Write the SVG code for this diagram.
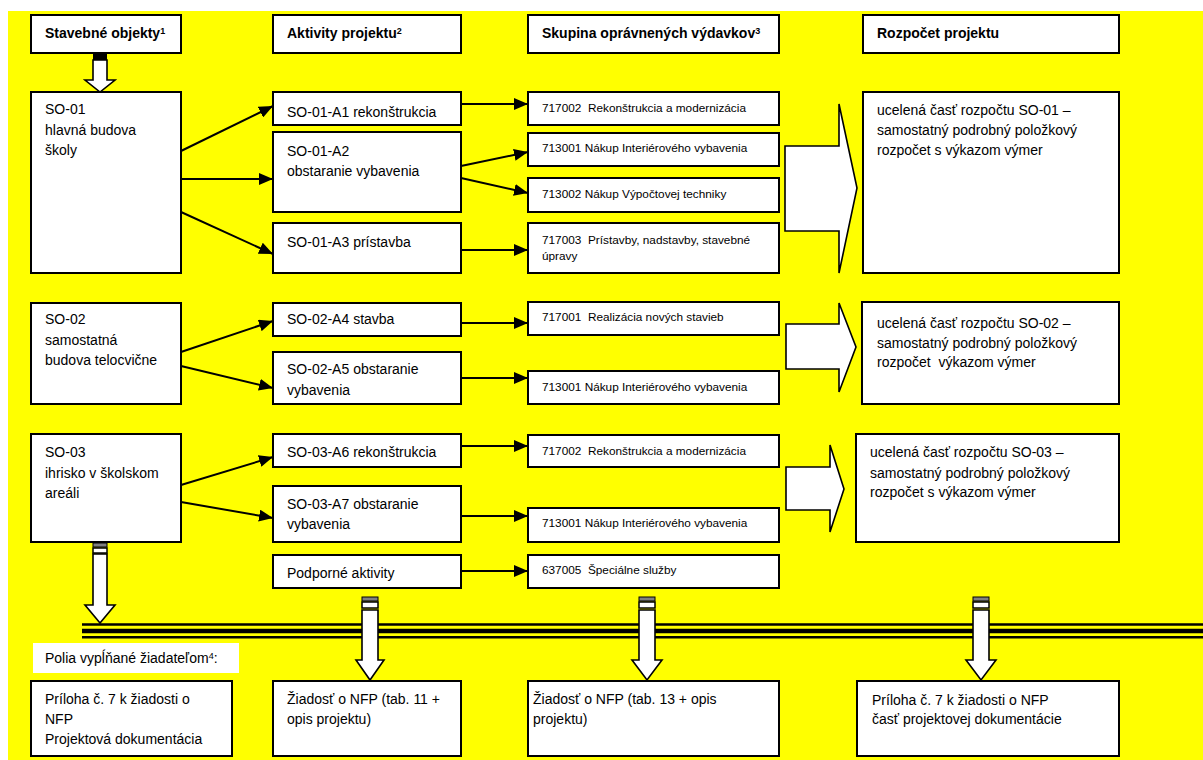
<svg xmlns="http://www.w3.org/2000/svg" width="1203" height="760" viewBox="0 0 1203 760">
<style>
text{font-family:"Liberation Sans",Arial,sans-serif;fill:#000;white-space:pre}
.b{fill:#fff;stroke:#000;stroke-width:2}
.h{font-size:14px;font-weight:bold}
.t{font-size:14px}
.s{font-size:11.8px}
.c{stroke:#000;stroke-width:2;fill:none;marker-end:url(#ah)}
.ba{fill:#fff;stroke:#000;stroke-width:1.6;stroke-linejoin:miter}
.sup{font-size:9px}
</style>
<defs>
<marker id="ah" markerUnits="userSpaceOnUse" markerWidth="14" markerHeight="12" refX="14" refY="6" orient="auto">
<path d="M0,0 L14,6 L0,12 z" fill="#000"/>
</marker>
</defs>
<rect x="8" y="11" width="1195" height="749" fill="#ffff00"/>

<g id="h1"><rect class="b" x="31" y="15" width="150" height="38"/><text class="h" x="45" y="38">Stavebné objekty<tspan class="sup" dy="-4">1</tspan></text></g>
<g id="h2"><rect class="b" x="273" y="15" width="188" height="38"/><text class="h" x="287" y="38">Aktivity projektu<tspan class="sup" dy="-4">2</tspan></text></g>
<g id="h3"><rect class="b" x="528" y="15" width="251" height="38"/><text class="h" x="542" y="38">Skupina oprávnených výdavkov<tspan class="sup" dy="-4">3</tspan></text></g>
<g id="h4"><rect class="b" x="863" y="15" width="256" height="38"/><text class="h" x="877" y="38">Rozpočet projektu</text></g>

<g id="so01"><rect class="b" x="31" y="92" width="150" height="181"/><text class="t" x="45" y="114">SO-01</text><text class="t" x="45" y="135">hlavná budova</text><text class="t" x="45" y="155">školy</text></g>
<g id="a1"><rect class="b" x="273" y="92" width="188" height="33"/><text class="t" x="287" y="117">SO-01-A1 rekonštrukcia</text></g>
<g id="a2"><rect class="b" x="273" y="132" width="188" height="80"/><text class="t" x="287" y="156">SO-01-A2</text><text class="t" x="287" y="176">obstaranie vybavenia</text></g>
<g id="a3"><rect class="b" x="273" y="223" width="188" height="50"/><text class="t" x="287" y="247">SO-01-A3 prístavba</text></g>
<g id="b1"><rect class="b" x="528" y="92" width="251" height="33"/><text class="s" x="542" y="112">717002  Rekonštrukcia a modernizácia</text></g>
<g id="b2"><rect class="b" x="528" y="133" width="251" height="33"/><text class="s" x="542" y="152">713001 Nákup Interiérového vybavenia</text></g>
<g id="b3"><rect class="b" x="528" y="178" width="251" height="34"/><text class="s" x="542" y="198">713002 Nákup Výpočtovej techniky</text></g>
<g id="b4"><rect class="b" x="528" y="223" width="251" height="50"/><text class="s" x="542" y="244">717003  Prístavby, nadstavby, stavebné</text><text class="s" x="542" y="260">úpravy</text></g>
<g id="r1"><rect class="b" x="863" y="92" width="256" height="181"/><text class="t" x="877" y="115">ucelená časť rozpočtu SO-01 –</text><text class="t" x="877" y="135">samostatný podrobný položkový</text><text class="t" x="877" y="155">rozpočet s výkazom výmer</text></g>

<g id="so02"><rect class="b" x="31" y="303" width="150" height="101"/><text class="t" x="45" y="324">SO-02</text><text class="t" x="45" y="345">samostatná</text><text class="t" x="45" y="365">budova telocvične</text></g>
<g id="a4"><rect class="b" x="273" y="303" width="188" height="33"/><text class="t" x="287" y="324">SO-02-A4 stavba</text></g>
<g id="a5"><rect class="b" x="273" y="352" width="188" height="52"/><text class="t" x="287" y="374">SO-02-A5 obstaranie</text><text class="t" x="287" y="395">vybavenia</text></g>
<g id="c1"><rect class="b" x="528" y="302" width="251" height="33"/><text class="s" x="542" y="321">717001  Realizácia nových stavieb</text></g>
<g id="c2"><rect class="b" x="528" y="371" width="251" height="33"/><text class="s" x="542" y="391">713001 Nákup Interiérového vybavenia</text></g>
<g id="r2"><rect class="b" x="862" y="302" width="257" height="102"/><text class="t" x="877" y="328">ucelená časť rozpočtu SO-02 –</text><text class="t" x="877" y="348">samostatný podrobný položkový</text><text class="t" x="877" y="367">rozpočet  výkazom výmer</text></g>

<g id="so03"><rect class="b" x="31" y="434" width="150" height="108"/><text class="t" x="45" y="457">SO-03</text><text class="t" x="45" y="478">ihrisko v školskom</text><text class="t" x="45" y="498">areáli</text></g>
<g id="a6"><rect class="b" x="273" y="434" width="188" height="33"/><text class="t" x="287" y="457">SO-03-A6 rekonštrukcia</text></g>
<g id="a7"><rect class="b" x="273" y="486" width="188" height="56"/><text class="t" x="287" y="509">SO-03-A7 obstaranie</text><text class="t" x="287" y="529">vybavenia</text></g>
<g id="pa"><rect class="b" x="273" y="555" width="188" height="33"/><text class="t" x="287" y="578">Podporné aktivity</text></g>
<g id="d1"><rect class="b" x="528" y="435" width="251" height="32"/><text class="s" x="542" y="455">717002  Rekonštrukcia a modernizácia</text></g>
<g id="d2"><rect class="b" x="528" y="508" width="251" height="34"/><text class="s" x="542" y="527">713001 Nákup Interiérového vybavenia</text></g>
<g id="d3"><rect class="b" x="528" y="555" width="251" height="33"/><text class="s" x="542" y="574">637005  Špeciálne služby</text></g>
<g id="r3"><rect class="b" x="856" y="434" width="263" height="108"/><text class="t" x="870" y="457">ucelená časť rozpočtu SO-03 –</text><text class="t" x="870" y="478">samostatný podrobný položkový</text><text class="t" x="870" y="497">rozpočet s výkazom výmer</text></g>

<g id="sep">
<line x1="82" y1="624.5" x2="1203" y2="624.5" stroke="#000" stroke-width="2.4"/>
<line x1="82" y1="631" x2="1203" y2="631" stroke="#000" stroke-width="4.4"/>
<line x1="82" y1="637.3" x2="1203" y2="637.3" stroke="#000" stroke-width="2.6"/>
</g>

<g id="polia"><rect x="33" y="643" width="206" height="30" fill="#fff"/><text class="t" x="45" y="663">Polia vypĺňané žiadateľom<tspan class="sup" dy="-4">4</tspan><tspan dy="4">:</tspan></text></g>
<g id="e1"><rect class="b" x="31" y="681" width="201" height="75"/><text class="t" x="45" y="704">Príloha č. 7 k žiadosti o</text><text class="t" x="45" y="724">NFP</text><text class="t" x="45" y="744">Projektová dokumentácia</text></g>
<g id="e2"><rect class="b" x="273" y="681" width="188" height="75"/><text class="t" x="287" y="704">Žiadosť o NFP (tab. 11 +</text><text class="t" x="287" y="724">opis projektu)</text></g>
<g id="e3"><rect class="b" x="528" y="681" width="251" height="75"/><text class="t" x="533" y="704">Žiadosť o NFP (tab. 13 + opis</text><text class="t" x="533" y="724">projektu)</text></g>
<g id="e4"><rect class="b" x="857" y="681" width="262" height="75"/><text class="t" x="872" y="705">Príloha č. 7 k žiadosti o NFP</text><text class="t" x="872" y="724">časť projektovej dokumentácie</text></g>

<g id="connectors">
<line class="c" x1="181" y1="151" x2="273" y2="106"/>
<line class="c" x1="181" y1="179" x2="273" y2="179"/>
<line class="c" x1="181" y1="212" x2="273" y2="254"/>
<line class="c" x1="461" y1="104" x2="528" y2="104"/>
<line class="c" x1="461" y1="166" x2="528" y2="152"/>
<line class="c" x1="461" y1="178" x2="528" y2="193"/>
<line class="c" x1="461" y1="250" x2="528" y2="250"/>
<line class="c" x1="181" y1="352" x2="273" y2="321"/>
<line class="c" x1="181" y1="366" x2="273" y2="388"/>
<line class="c" x1="461" y1="323" x2="528" y2="323"/>
<line class="c" x1="461" y1="378" x2="528" y2="378"/>
<line class="c" x1="181" y1="485" x2="273" y2="457"/>
<line class="c" x1="181" y1="502" x2="273" y2="518"/>
<line class="c" x1="461" y1="446" x2="528" y2="446"/>
<line class="c" x1="461" y1="516" x2="528" y2="516"/>
<line class="c" x1="461" y1="571" x2="528" y2="571"/>
<polygon class="ba" points="785,146 839,146 839,104 857,188 839,273 839,231 785,231"/>
<polygon class="ba" points="786,324 839,324 839,303 856,347 839,392 839,369 786,369"/>
<polygon class="ba" points="786,467 830,467 830,445 844,489 830,532 830,510 786,510"/>
<rect x="93" y="53" width="14" height="7" fill="#000"/>
<polygon class="ba" points="93,60 107,60 107,80 115,80 100,92 85,80 93,80" stroke-width="2"/>
<rect x="93" y="543" width="14" height="4" fill="#808080" stroke="#000" stroke-width="1"/>
<rect x="93" y="548" width="14" height="5" fill="#fff" stroke="#000" stroke-width="1.5"/>
<polygon class="ba" points="93,554 107,554 107,605 115,605 100,623 85,605 93,605" stroke-width="2"/>
<rect x="362" y="597" width="16" height="4" fill="#808080" stroke="#000" stroke-width="1"/>
<rect x="362" y="602" width="16" height="6" fill="#fff" stroke="#000" stroke-width="1.5"/>
<polygon class="ba" points="362,610 378,610 378,660 384,660 370,680 356,660 362,660" stroke-width="2"/>
<rect x="639" y="597" width="16" height="4" fill="#808080" stroke="#000" stroke-width="1"/>
<rect x="639" y="602" width="16" height="6" fill="#fff" stroke="#000" stroke-width="1.5"/>
<polygon class="ba" points="639,610 655,610 655,660 662,660 647,680 632,660 639,660" stroke-width="2"/>
<rect x="973" y="597" width="16" height="4" fill="#808080" stroke="#000" stroke-width="1"/>
<rect x="973" y="602" width="16" height="6" fill="#fff" stroke="#000" stroke-width="1.5"/>
<polygon class="ba" points="973,610 989,610 989,660 996,660 981,680 966,660 973,660" stroke-width="2"/>
</g>
</svg>
